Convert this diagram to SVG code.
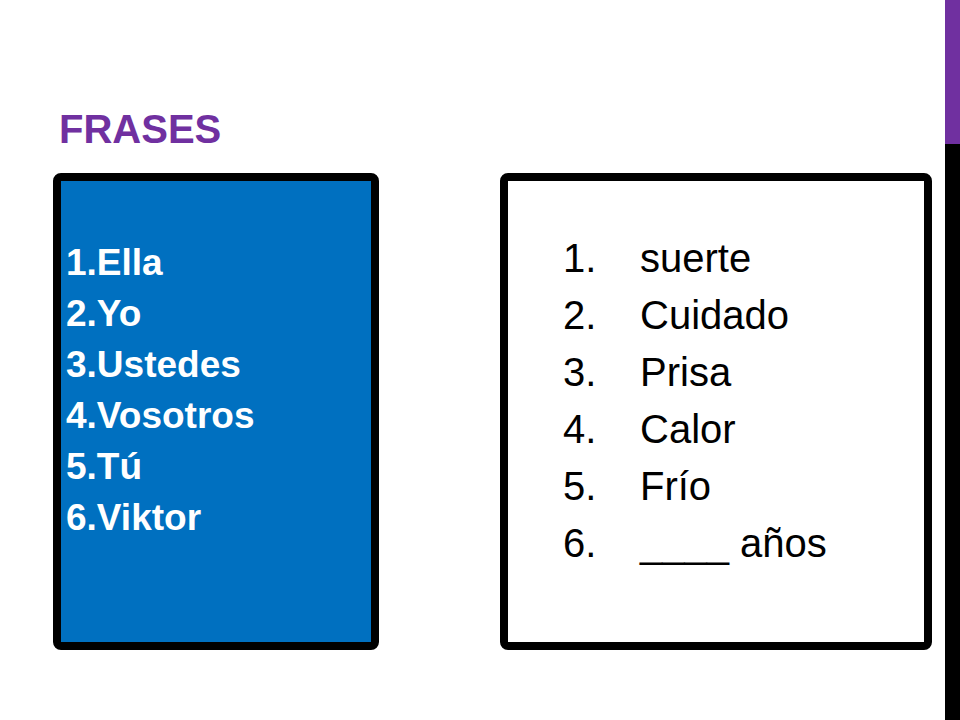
<svg xmlns="http://www.w3.org/2000/svg" width="960" height="720" viewBox="0 0 960 720">
<style>
.l{font-family:"Liberation Sans",Arial,sans-serif;font-weight:bold;font-size:37px;fill:#fff}
.r{font-family:"Liberation Sans",Arial,sans-serif;font-size:40px;fill:#000}
</style>
<rect width="960" height="720" fill="#fff"/>
<rect x="945" y="0" width="15" height="144" fill="#7030A0"/>
<rect x="945" y="144" width="15" height="576" fill="#000"/>
<text x="59" y="143" font-family="Liberation Sans,Arial,sans-serif" font-weight="bold" font-size="40" fill="#7030A0">FRASES</text>
<g id="left">
<rect x="57" y="177" width="318" height="469" rx="4" fill="#0070C0" stroke="#000" stroke-width="8"/>
<text class="l" x="66" y="275">1.Ella</text>
<text class="l" x="66" y="326">2.Yo</text>
<text class="l" x="66" y="377">3.Ustedes</text>
<text class="l" x="66" y="428">4.Vosotros</text>
<text class="l" x="66" y="479">5.Tú</text>
<text class="l" x="66" y="530">6.Viktor</text>
</g>
<g id="right">
<rect x="504" y="177" width="424" height="469" rx="4" fill="#fff" stroke="#000" stroke-width="8"/>
<g class="r">
<text x="563" y="272">1.</text><text x="640" y="272">suerte</text>
<text x="563" y="329">2.</text><text x="640" y="329">Cuidado</text>
<text x="563" y="386">3.</text><text x="640" y="386">Prisa</text>
<text x="563" y="443">4.</text><text x="640" y="443">Calor</text>
<text x="563" y="500">5.</text><text x="640" y="500">Frío</text>
<text x="563" y="557">6.</text><text x="640" y="557">____ años</text>
</g>
</g>
<g id="connectors"/>
</svg>
